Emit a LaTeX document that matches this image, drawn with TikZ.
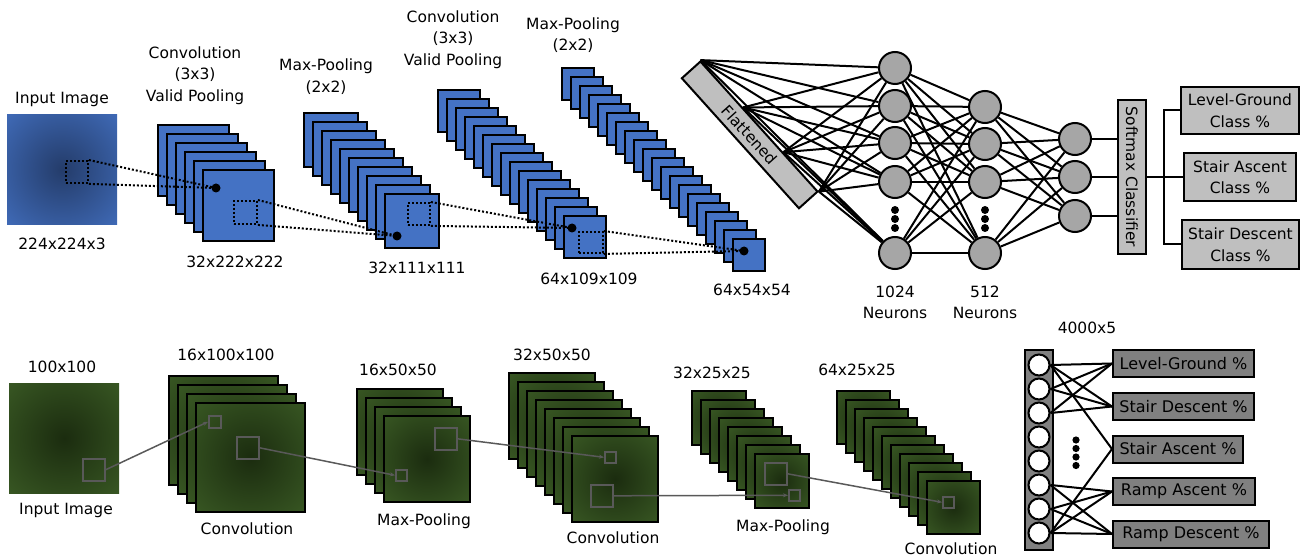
\documentclass[tikz,border=0pt]{standalone}
\usepackage{fontspec}
\setmainfont{DejaVu Sans}
\usepackage{graphicx}
\usetikzlibrary{positioning,calc,arrows.meta}

\definecolor{fmblue}{RGB}{68,114,196}
\definecolor{fmbluedark}{RGB}{36,60,106}
\definecolor{fmgreen}{RGB}{56,87,35}
\definecolor{fmgreendark}{RGB}{27,44,15}
\definecolor{neurongray}{RGB}{166,166,166}
\definecolor{boxgray}{RGB}{191,191,191}
\definecolor{darkbox}{RGB}{128,128,128}
\definecolor{linkgray}{RGB}{89,89,89}

\pgfdeclareradialshading{blueimg}{\pgfpoint{0bp}{0bp}}{color(0bp)=(fmbluedark); color(42bp)=(fmblue); color(50bp)=(fmblue)}
\pgfdeclareradialshading{greenimg}{\pgfpoint{0bp}{0bp}}{color(0bp)=(fmgreendark); color(36bp)=(fmgreen); color(50bp)=(fmgreen)}

% stack of feature maps: name, x, y, size, count, style
\newcommand{\fmstack}[6]{%
  \foreach \k in {1,...,#5}
    \node[#6, minimum size=#4pt] (#1-\k) at ({#2+9*(\k-1)},{#3+9*(\k-1)}) {};
}

\begin{document}
\begin{tikzpicture}[
  x=1pt, y=-1pt,
  font=\fontsize{15.5}{21.5}\selectfont,
  fmb/.style={draw=black, line width=2pt, fill=fmblue, anchor=north west, inner sep=0pt},
  fmg/.style={draw=black, line width=2pt, shade, shading=greenimg, anchor=north west, inner sep=0pt},
  rfield/.style={draw=black, line width=1.9pt, dash pattern=on 2pt off 2pt, anchor=north west, inner sep=0pt, minimum size=22pt},
  fdot/.style={circle, fill=black, inner sep=0pt, minimum size=9pt},
  dotlink/.style={line width=2pt, dash pattern=on 2pt off 2pt},
  gsq/.style={draw=linkgray, line width=1.6pt, anchor=north west, inner sep=0pt},
  glink/.style={draw=linkgray, line width=1.5pt, -{Stealth[length=5pt,width=4pt]}},
  neuron/.style={circle, draw=black, line width=2pt, fill=neurongray, minimum size=32pt, inner sep=0pt},
  unit/.style={circle, draw=black, line width=2pt, fill=white, minimum size=21pt, inner sep=0pt},
  wire/.style={line width=2pt},
  flatbox/.style={draw=black, line width=2pt, fill=boxgray, minimum width=175pt, minimum height=25pt, inner sep=0pt},
  clsbox/.style={draw=black, line width=2pt, fill=boxgray, align=center, inner sep=0pt},
  outbox/.style={draw=black, line width=2pt, fill=darkbox, anchor=west, minimum height=27pt, inner sep=0pt, font=\fontsize{16}{19}\selectfont},
  lbl/.style={align=center, inner sep=0pt}
  ]
\useasboundingbox (0,0) rectangle (1302,556);

% top row
\node[anchor=north west, inner sep=0pt, minimum size=110pt, shade, shading=blueimg] (img) at (7,114) {};
\fmstack{cv1}{157}{124}{71}{6}{fmb}
\fmstack{mp1}{303}{112}{54}{10}{fmb}
\fmstack{cv2}{437}{89}{42}{15}{fmb}
\fmstack{mp2}{561}{67}{32}{20}{fmb}

\node[rfield] (rf0) at (65,160) {};
\node[rfield, minimum size=23pt] (rf1) at (233,200) {};
\node[rfield] (rf2) at (407,202) {};
\node[rfield, minimum width=24pt, minimum height=21pt] (rf3) at (578,231) {};
\node[fdot] (d1) at (216,188) {};
\node[fdot] (d2) at (397,236) {};
\node[fdot] (d3) at (572,228) {};
\node[fdot] (d4) at (744,251) {};
\foreach \a/\b in {rf0/d1, rf1/d2, rf2/d3, rf3/d4}
  \draw[dotlink] (\a.north east) -- (\b.center) (\a.south east) -- (\b.center);

\node[lbl] (imglbl) at (62,99) {Input Image};
\node[lbl] (imgsize) at (62,244) {224x224x3};
\node[lbl] (cv1lbl) at (195,75.5) {Convolution\\(3x3)\\Valid Pooling};
\node[lbl] (cv1size) at (235,262) {32x222x222};
\node[lbl] (mp1lbl) at (326,76.5) {Max-Pooling\\(2x2)};
\node[lbl] (mp1size) at (417,268) {32x111x111};
\node[lbl] (cv2lbl) at (453,39.5) {Convolution\\(3x3)\\Valid Pooling};
\node[lbl] (cv2size) at (589,279) {64x109x109};
\node[lbl] (mp2lbl) at (573,35) {Max-Pooling\\(2x2)};
\node[lbl] (mp2size) at (752,290) {64x54x54};

% dense layers
\node[flatbox, rotate=-48] (flat) at (749.7,134.9) {Flattened};
\foreach \y [count=\i] in {68,106,143,182,253}
  \node[neuron] (a\i) at (895,\y) {};
\foreach \y [count=\i] in {107,144,182,253}
  \node[neuron] (b\i) at (985,\y) {};
\foreach \y [count=\i] in {139,177,216}
  \node[neuron] (c\i) at (1075,\y) {};
\foreach \y in {210,219,228} {
  \fill (895,\y) circle (4);
  \fill (985,\y) circle (4);
}
\foreach \t [count=\j] in {0,0.36,0.7,1}
  \coordinate (fp\j) at ($(flat.north west)!\t!(flat.north east)$);
\foreach \j in {1,...,4}
  \foreach \i in {1,...,5}
    \draw[wire] (fp\j) -- (a\i);
\foreach \i in {1,...,5}
  \foreach \j in {1,...,4}
    \draw[wire] (a\i) -- (b\j);
\foreach \i in {1,...,4}
  \foreach \j in {1,...,3}
    \draw[wire] (b\i) -- (c\j);

\node[lbl, below=15.5pt of a5] (alb) {1024\\Neurons};
\node[lbl, below=15.5pt of b4] (blb) {512\\Neurons};

\node[clsbox, minimum width=28pt, minimum height=154pt] (soft) at (1132,177) {\rotatebox{-90}{Softmax Classifier}};
\foreach \i in {1,2,3}
  \draw[wire] (c\i) -- (c\i -| soft.west);

\node[clsbox, anchor=west, minimum width=118pt, minimum height=47pt] (lg) at (1180,110.5) {Level-Ground\\Class \%};
\node[clsbox, anchor=west, minimum width=112pt, minimum height=48pt] (sa) at (1183,177) {Stair Ascent\\Class \%};
\node[clsbox, anchor=west, minimum width=117pt, minimum height=49pt] (sd) at (1181,244.5) {Stair Descent\\Class \%};
\coordinate (br) at ($(soft.east)+(17,0)$);
\draw[wire] (soft.east) -- (sa.west);
\draw[wire] (lg.west) -| (br) |- (sd.west);

% bottom row
\node[anchor=north west, inner sep=0pt, minimum size=110pt, shade, shading=greenimg] (img2) at (9,383) {};
\fmstack{gc1}{168}{375}{109}{4}{fmg}
\fmstack{gp1}{356}{388}{86}{4}{fmg}
\fmstack{gc2}{508}{372}{86}{8}{fmg}
\fmstack{gp2}{691}{390}{54}{8}{fmg}
\fmstack{gc3}{836}{390}{53}{11}{fmg}

\node[gsq, minimum size=22pt] (g0) at (82,458) {};
\node[gsq, minimum size=12pt] (s1) at (208,415) {};
\node[gsq, minimum size=22pt] (g1) at (236,436) {};
\node[gsq, minimum size=11pt] (s2) at (395,469) {};
\node[gsq, minimum size=22pt] (g2) at (434,427) {};
\node[gsq, minimum size=11pt] (s3) at (604,451) {};
\node[gsq, minimum size=22pt] (g3) at (590,484) {};
\node[gsq, minimum size=11pt] (s4) at (788,489) {};
\node[gsq, minimum size=22pt] (g4) at (764,462) {};
\node[gsq, minimum size=11pt] (s5) at (942,496) {};
\foreach \i [count=\j] in {0,...,4}
  \draw[glink] (g\i.east) -- (s\j.west);

\node[lbl] (img2size) at (62,367) {100x100};
\node[lbl] (img2lbl) at (66,510) {Input Image};
\node[lbl] (gc1size) at (226,355) {16x100x100};
\node[lbl] (gc1lbl) at (247,529) {Convolution};
\node[lbl] (gp1size) at (398,370) {16x50x50};
\node[lbl] (gp1lbl) at (424,521) {Max-Pooling};
\node[lbl] (gc2size) at (552,355) {32x50x50};
\node[lbl] (gc2lbl) at (613,538) {Convolution};
\node[lbl] (gp2size) at (712,373) {32x25x25};
\node[lbl] (gp2lbl) at (783,527) {Max-Pooling};
\node[lbl] (gc3size) at (857,370) {64x25x25};
\node[lbl] (gc3lbl) at (951,549) {Convolution};

% output column
\node[lbl] (colsize) at (1087,328) {4000x5};
\node[draw=black, line width=2pt, fill=darkbox, minimum width=28pt, minimum height=200pt, inner sep=0pt] (col) at (1039,450) {};
\foreach \i in {1,...,8}
  \node[unit] (f\i) at (1039,{365+24*(\i-1)}) {};
\foreach \y in {440,448.5,457,465.5}
  \fill (1076,\y) circle (3.6);

\node[outbox, minimum width=141pt] (olg) at (1112,363.5) {Level-Ground \%};
\node[outbox, minimum width=141pt] (osd) at (1112,406.5) {Stair Descent \%};
\node[outbox, minimum width=130pt] (osa) at (1112,449) {Stair Ascent \%};
\node[outbox, minimum width=142pt] (ora) at (1112,491.5) {Ramp Ascent \%};
\node[outbox, minimum width=156pt] (ord) at (1112,534) {Ramp Descent \%};

\foreach \i in {1,2,3}
  \foreach \o in {olg,osd}
    \draw[wire] (f\i.east) -- (\o.west);
\foreach \i in {6,7,8}
  \foreach \o in {ora,ord}
    \draw[wire] (f\i.east) -- (\o.west);
\draw[wire] (f1.east) -- (osa.west);
\draw[wire] (f8.east) -- (osa.west);

\end{tikzpicture}
\end{document}
